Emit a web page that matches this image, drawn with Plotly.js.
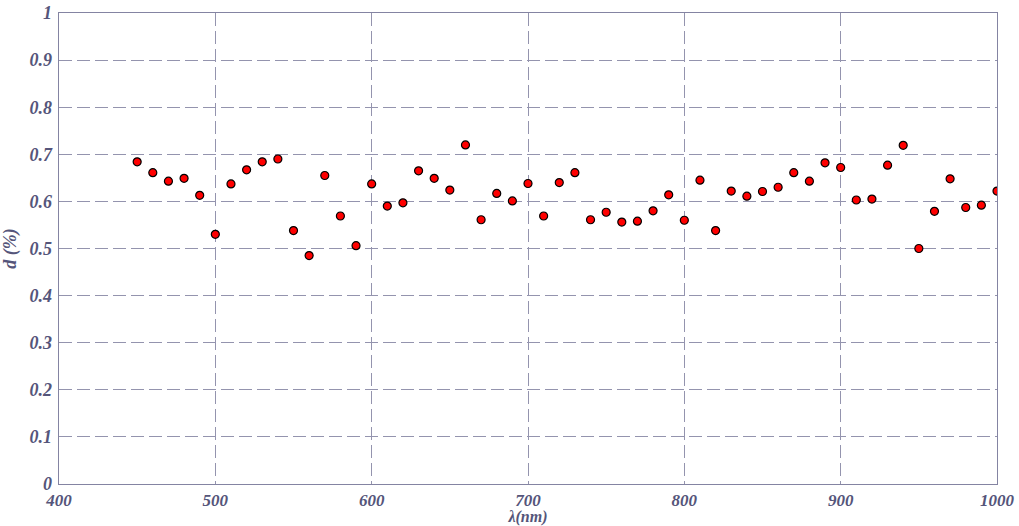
<!DOCTYPE html>
<html>
<head>
<meta charset="utf-8">
<script src="https://cdn.plot.ly/plotly-3.0.1.min.js"></script>
<style>html,body{margin:0;padding:0;background:#fff;}#chart{width:1019px;height:526px;}</style>
</head>
<body>
<div id="chart"></div>
<script>
const wavelengths = [450,460,470,480,490,500,510,520,530,540,550,560,570,580,590,600,610,620,630,640,650,660,670,680,690,700,710,720,730,740,750,760,770,780,790,800,810,820,830,840,850,860,870,880,890,900,910,920,930,940,950,960,970,980,990,1000];
const dValues = [0.684,0.661,0.643,0.649,0.613,0.530,0.637,0.667,0.684,0.690,0.538,0.485,0.655,0.569,0.506,0.637,0.590,0.597,0.665,0.649,0.624,0.720,0.561,0.617,0.601,0.638,0.569,0.640,0.661,0.561,0.577,0.556,0.558,0.580,0.614,0.560,0.645,0.538,0.622,0.611,0.621,0.630,0.661,0.643,0.682,0.672,0.603,0.605,0.677,0.719,0.500,0.579,0.648,0.587,0.592,0.622];
const xTicks = [400,500,600,700,800,900,1000];
const yTicks = [0,0.1,0.2,0.3,0.4,0.5,0.6,0.7,0.8,0.9,1];
const yTickText = ['0','0.1','0.2','0.3','0.4','0.5','0.6','0.7','0.8','0.9','1'];

const textColor = '#55557a';
const fontFam = 'Liberation Serif, Times New Roman, serif';
const tf = {family: fontFam, size: 18, color: textColor, weight: 'bold', style: 'italic'};
const b = s => '<b><i>' + s + '</i></b>';

const trace = {
  x: wavelengths, y: dValues, type: 'scatter', mode: 'markers',
  marker: {color: '#ff0000', size: 8, line: {color: '#000000', width: 1.2}},
  hoverinfo: 'x+y'
};

const layout = {
  width: 1019, height: 526,
  margin: {l: 59, r: 22, t: 13, b: 42},
  paper_bgcolor: '#ffffff', plot_bgcolor: '#ffffff',
  showlegend: false,
  font: {family: fontFam, color: textColor, size: 18},
  xaxis: {
    range: [400, 1000], tickvals: xTicks, ticktext: xTicks.map(v => b(String(v))),
    showgrid: true, gridcolor: '#9494ae', griddash: '13px,5px', gridwidth: 1,
    showline: true, linecolor: '#8484a2', linewidth: 1.3, mirror: true,
    zeroline: false, ticks: '',
    tickfont: Object.assign({}, tf, {size: 17}),
    title: {text: b('λ(nm)'), standoff: 6, font: Object.assign({}, tf, {size: 16})}
  },
  yaxis: {
    range: [0, 1], tickvals: yTicks, ticktext: yTickText.map(b),
    showgrid: true, gridcolor: '#9494ae', griddash: '13px,5px', gridwidth: 1,
    showline: true, linecolor: '#8484a2', linewidth: 1.3, mirror: true,
    zeroline: false, ticks: '', ticklabelstandoff: 2,
    tickfont: tf,
    title: {text: b('d (%)'), standoff: 8, font: tf}
  }
};

Plotly.newPlot('chart', [trace], layout, {displayModeBar: false, staticPlot: true});
</script>
</body>
</html>
